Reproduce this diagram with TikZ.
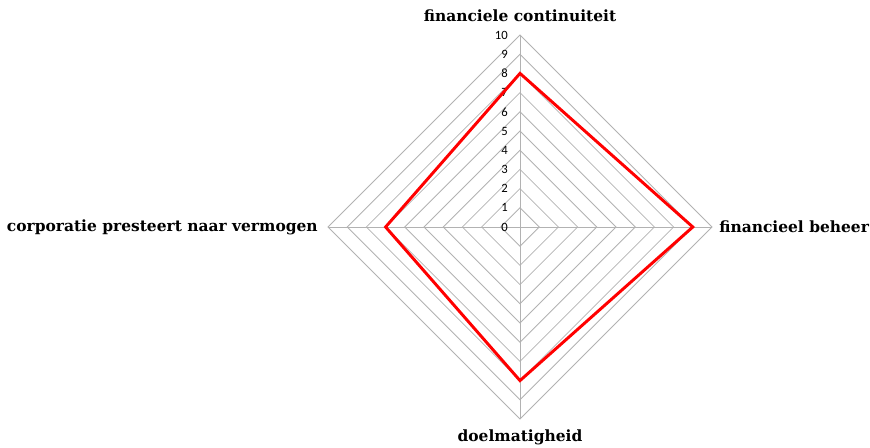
\documentclass[tikz,border=0pt]{standalone}
\usepackage{fontspec}
\setmainfont{DejaVu Serif}
\newfontfamily\numfont{Carlito}
\usetikzlibrary{calc}

\begin{document}
\begin{tikzpicture}[x=0.75pt,y=0.75pt,
		gridline/.style={draw=black!30, line width=0.6pt},
		axislabel/.style={font=\bfseries\fontsize{11.6}{13}\selectfont, inner sep=0pt},
		ticklabel/.style={font=\numfont\fontsize{9.5}{11}\selectfont, anchor=east, inner sep=0pt},
		score/.style={draw=red, line width=2.2pt, line join=miter}]
	\useasboundingbox (-520,-221) rectangle (350,227);
	
	\def\unit{19.2}
	
	% grid
	\foreach \i in {1,...,10}
		\draw[gridline] (0,\i*\unit) -- (\i*\unit,0) -- (0,-\i*\unit) -- (-\i*\unit,0) -- cycle;
	
	\coordinate (c) at (0,0);
	\coordinate (n) at (0,10*\unit);
	\coordinate (e) at (10*\unit,0);
	\coordinate (s) at (0,-10*\unit);
	\coordinate (w) at (-10*\unit,0);
	\foreach \p in {n,e,s,w}
		\draw[gridline] (c) -- (\p);
	
	% tick values
	\foreach \i in {0,...,10}
		\node[ticklabel] (tick\i) at (-12,\i*\unit) {\i};
	
	% scores
	\coordinate (vn) at (0,8*\unit);
	\coordinate (ve) at (9*\unit,0);
	\coordinate (vs) at (0,-8*\unit);
	\coordinate (vw) at (-7*\unit,0);
	\draw[score] (vn) -- (ve) -- (vs) -- (vw) -- cycle;
	
	% axis names
	\node[axislabel] (lbltop) at (0,211) {financiele continuiteit};
	\node[axislabel, anchor=west] (lblright) at (199,0) {financieel beheer};
	\node[axislabel] (lblbottom) at (0,-210) {doelmatigheid};
	\node[axislabel, anchor=east] (lblleft) at (-202,0) {corporatie presteert naar vermogen};
\end{tikzpicture}
\end{document}
